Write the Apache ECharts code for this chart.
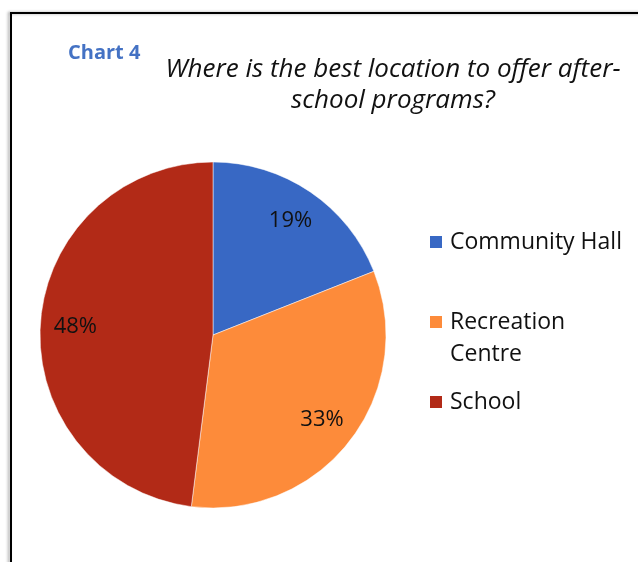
<!DOCTYPE html>
<html>
<head>
<meta charset="utf-8">
<style>
  html, body { margin: 0; padding: 0; background: #fff; }
  #chart { width: 638px; height: 562px; }
</style>
<script src="https://cdn.jsdelivr.net/npm/echarts@6/dist/echarts.min.js"></script>
</head>
<body>
<div id="chart"></div>
<script>
// Survey answers: preferred location for after-school programs (percent)
const categories = ['Community Hall', 'Recreation Centre', 'School'];
const shares = [19, 33, 48];
const colors = ['#3868C4', '#FD8B3A', '#B22A17'];

const FONT = '"Open Sans", "Noto Sans", sans-serif';
const CX = 213, CY = 335, R = 173;

const pieData = categories.map((name, i) => ({
  name,
  value: shares[i],
  itemStyle: { color: colors[i] }
}));

// one legend block per entry so each can sit at its own height
function legendBlock(name, top, formatter) {
  return {
    orient: 'vertical',
    left: 428,
    top: top,
    icon: 'rect',
    itemWidth: 14,
    itemHeight: 14,
    itemGap: 0,
    padding: 0,
    selectedMode: false,
    data: [name],
    formatter: formatter || (n => n),
    textStyle: { fontFamily: FONT, fontSize: 23, color: '#111', lineHeight: 32, padding: [0, 0, 0, 2] }
  };
}

const chart = echarts.init(document.getElementById('chart'), null, { renderer: 'canvas' });
chart.setOption({
  animation: false,
  backgroundColor: '#fff',
  title: [
    {
      text: 'Chart 4',
      left: 68, top: 43,
      padding: 0,
      textStyle: { fontFamily: FONT, fontSize: 20, fontWeight: 'bold', color: '#4472C4' }
    },
    {
      text: 'Where is the best location to offer after-\nschool programs?',
      left: 393, top: 54,
      padding: 0,
      textAlign: 'center',
      textStyle: { fontFamily: FONT, fontSize: 26, fontStyle: 'italic', fontWeight: 'normal', color: '#111', lineHeight: 31 }
    }
  ],
  legend: [
    legendBlock('Community Hall', 226),
    // blank first line keeps the swatch level with "Recreation"
    legendBlock('Recreation Centre', 274, () => '\u00a0\nRecreation\nCentre'),
    legendBlock('School', 386)
  ],
  graphic: [
    {
      type: 'rect',
      shape: { x: 11, y: 13, width: 800, height: 800 },
      style: { fill: 'none', stroke: '#000', lineWidth: 2, shadowColor: 'rgba(0,0,0,0.35)', shadowBlur: 3, shadowOffsetX: -2, shadowOffsetY: 0 },
      silent: true
    }
  ],
  series: [
    {
      type: 'pie',
      center: [CX, CY],
      radius: [0, R],
      startAngle: 90,
      clockwise: true,
      data: pieData,
      label: { show: false },
      labelLine: { show: false },
      itemStyle: { borderColor: '#fff', borderWidth: 0.5 },
      emphasis: { disabled: true }
    },
    {
      // transparent ring carrying the percentage labels
      type: 'pie',
      center: [CX, CY],
      radius: [R * 0.56, R],
      startAngle: 90,
      clockwise: true,
      silent: true,
      data: categories.map((name, i) => ({ name, value: shares[i] })),
      itemStyle: { color: 'rgba(0,0,0,0)' },
      label: {
        show: true,
        position: 'inside',
        formatter: p => p.value + '%',
        fontFamily: FONT, fontSize: 22, color: '#111'
      },
      labelLine: { show: false },
      emphasis: { disabled: true }
    }
  ]
});
</script>
</body>
</html>
